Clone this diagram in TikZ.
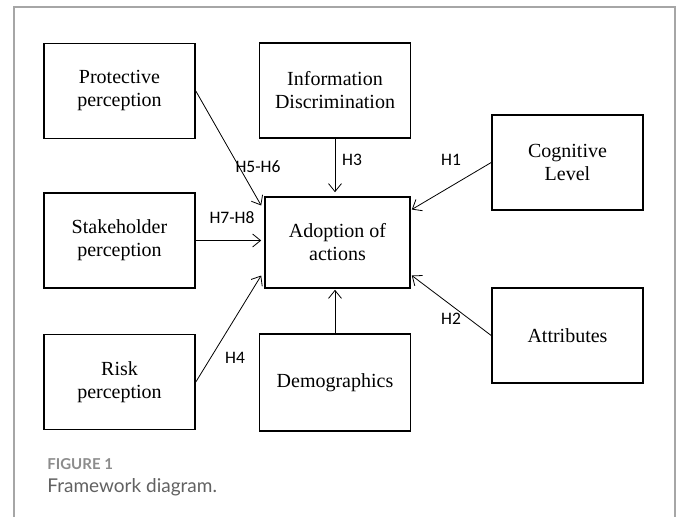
\documentclass[tikz,border=0pt]{standalone}
\usepackage{fontspec}
\setmainfont{Liberation Serif}
\newfontfamily\hfont{Carlito}
\newfontfamily\capfont{Lato}
\usetikzlibrary{arrows.meta,calc}

\begin{document}
\begin{tikzpicture}[x=1pt,y=-1pt,->,>={Straight Barb[length=8pt,width=13pt]},
                    line width=0.8pt]
  \tikzstyle{factor}=[draw=black,line width=1.6pt,rectangle,minimum width=151pt,
                      minimum height=95pt,align=center,inner sep=0pt,
                      font=\fontsize{20}{23}\selectfont]
  \tikzstyle{hyp}=[inner sep=0pt,font=\hfont\fontsize{17.5}{20}\selectfont]

  \useasboundingbox (0,0) rectangle (681,517);
  \draw[-,line width=1.5pt,color=gray!70] (14,517) -- (14,7) -- (675,7) -- (675,517);

     \node[factor] (prot)  at (119.5,91)   {Protective\\perception};

  \node[factor] (info)  at (335,90.5)   {Information\\Discrimination};

   \node[factor] (cog)  at (567.5,162.5) {Cognitive\\Level};

  \node[factor] (stake) at (119.5,240.5) {Stakeholder\\perception};

  \node[factor,minimum width=145pt,minimum height=91pt] (adopt) at (337.5,242.5) {Adoption of\\actions};

  \node[factor] (risk)  at (119.5,382)   {Risk\\perception};

  \node[factor,minimum height=97pt] (demo) at (335,382.5) {Demographics};

    \node[factor] (attr) at (567.5,335.5) {Attributes};

  \node[hyp] (h56) at (258,167) {H5-H6};
  \node[hyp] (h78) at (232,218) {H7-H8};
  \node[hyp] (h3)  at (352,160) {H3};
  \node[hyp] (h1)  at (451,160) {H1};
  \node[hyp] (h4)  at (235,358) {H4};
  \node[hyp] (h2)  at (451,319) {H2};

  \node[anchor=base west,inner sep=0pt,text=gray!90,
        font=\capfont\bfseries\fontsize{15}{18}\selectfont] (fig) at (47,469) {FIGURE 1};
  \node[anchor=base west,inner sep=0pt,text=black!62,
        font=\capfont\fontsize{19}{22}\selectfont] (cap) at (47,492) {Framework diagram.};

  \path
      (prot.east) edge ($(adopt.west)+(-3,-37)$)

      (stake.east) edge [shorten >=3pt] (stake.east -| adopt.west)

      (risk.east) edge ($(adopt.west)+(-3,33)$)

      (info.south) edge [shorten >=4pt] (info.south |- adopt.north)

      (demo.north) edge [shorten >=1pt] (demo.north |- adopt.south)

      (cog.west) edge ($(adopt.east)+(1,-33)$)

      (attr.west) edge ($(adopt.east)+(1,33)$)
  ;

\end{tikzpicture}
\end{document}
